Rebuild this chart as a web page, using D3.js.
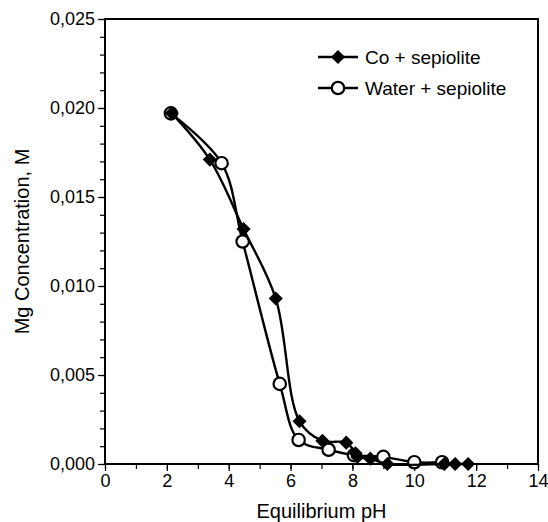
<!DOCTYPE html>
<html>
<head>
<meta charset="utf-8">
<script src="https://cdn.jsdelivr.net/npm/d3@7"></script>
<style>
  body { margin: 0; background: #fff; }
  svg { font-family: "Liberation Sans", Arial, sans-serif; }
</style>
</head>
<body>
<svg id="chart" width="548" height="522"></svg>
<script>
// Co + sepiolite (filled diamonds)
var co_ph   = [2.16, 3.39, 4.48, 5.52, 6.29, 7.03, 7.80, 8.10, 8.16, 8.58, 9.13, 10.97, 11.32, 11.74];
var co_mg   = [0.0197, 0.0171, 0.0132, 0.0093, 0.0024, 0.0013, 0.0012, 0.0006, 0.0004, 0.0003, 0.0000, 0.0000, 0.0000, 0.0000];

// Water + sepiolite (open circles)
var water_ph = [2.13, 3.77, 4.45, 5.65, 6.26, 7.23, 8.05, 9.00, 10.00, 10.90];
var water_mg = [0.0197, 0.0169, 0.0125, 0.0045, 0.00135, 0.0008, 0.0005, 0.0004, 0.0001, 0.0001];

var series_names = ['Co + sepiolite', 'Water + sepiolite'];
var x_ticks = [0, 2, 4, 6, 8, 10, 12, 14];
var y_ticks = [0, 0.005, 0.010, 0.015, 0.020, 0.025];

var margin = {top: 19, right: 10, bottom: 58, left: 105};
var width = 548 - margin.left - margin.right;
var height = 522 - margin.top - margin.bottom;

var svg = d3.select('#chart');
var g = svg.append('g')
  .attr('transform', 'translate(' + margin.left + ',' + margin.top + ')');

var x = d3.scaleLinear().domain([0, 14]).range([0, width]);
var y = d3.scaleLinear().domain([0, 0.025]).range([height, 0]);

var fmt = d => d3.format('.3f')(d).replace('.', ',');

// minor ticks
g.append('g')
  .attr('transform', 'translate(0,' + height + ')')
  .call(d3.axisBottom(x).tickValues(d3.range(0, 15, 1)).tickSize(5).tickFormat(''))
  .call(a => a.select('.domain').remove())
  .selectAll('line').attr('stroke-width', 1.2);

g.append('g')
  .call(d3.axisLeft(y).tickValues(d3.range(0, 0.0251, 0.001)).tickSize(5).tickFormat(''))
  .call(a => a.select('.domain').remove())
  .selectAll('line').attr('stroke-width', 1.2);

// major ticks
var xAxis = g.append('g')
  .attr('transform', 'translate(0,' + height + ')')
  .call(d3.axisBottom(x).tickValues(x_ticks).tickSize(7).tickPadding(3));
xAxis.select('.domain').remove();
xAxis.selectAll('line').attr('stroke-width', 1.2);
xAxis.selectAll('text').attr('font-size', 18).attr('fill', '#000')
  .attr('font-family', '"Liberation Sans", Arial, sans-serif');

var yAxis = g.append('g')
  .call(d3.axisLeft(y).tickValues(y_ticks).tickSize(7).tickPadding(3).tickFormat(fmt));
yAxis.select('.domain').remove();
yAxis.selectAll('line').attr('stroke-width', 1.2);
yAxis.selectAll('text').attr('font-size', 18).attr('fill', '#000')
  .attr('font-family', '"Liberation Sans", Arial, sans-serif');

// frame
g.append('rect')
  .attr('x', 0).attr('y', 0)
  .attr('width', width).attr('height', height)
  .attr('fill', 'none')
  .attr('stroke', '#000')
  .attr('stroke-width', 2);

// axis titles
svg.append('text')
  .attr('x', margin.left + width / 2)
  .attr('y', 518)
  .attr('text-anchor', 'middle')
  .attr('font-size', 20)
  .text('Equilibrium pH');

svg.append('text')
  .attr('transform', 'translate(29,' + (margin.top + height / 2) + ') rotate(-90)')
  .attr('text-anchor', 'middle')
  .attr('font-size', 20)
  .text('Mg Concentration, M');

var line = d3.line()
  .x(d => x(d[0]))
  .y(d => y(d[1]))
  .curve(d3.curveCatmullRom.alpha(0.5));

var water = water_ph.map((p, i) => [p, water_mg[i]]);
var co = co_ph.map((p, i) => [p, co_mg[i]]);

// square turned 45 degrees, same width and height
var diamond = d3.symbol().type(d3.symbolSquare).size(100);
var radius = 6.2;

function draw_water(sel)
{
  sel.append('path')
    .datum(water)
    .attr('fill', 'none')
    .attr('stroke', '#000')
    .attr('stroke-width', 2.4)
    .attr('d', line);

  sel.selectAll('.water-pt')
    .data(water)
    .enter()
    .append('circle')
    .attr('class', 'water-pt')
    .attr('cx', d => x(d[0]))
    .attr('cy', d => y(d[1]))
    .attr('r', radius)
    .attr('fill', '#fff')
    .attr('stroke', '#000')
    .attr('stroke-width', 2.2);
}

function draw_co(sel)
{
  sel.append('path')
    .datum(co)
    .attr('fill', 'none')
    .attr('stroke', '#000')
    .attr('stroke-width', 2.4)
    .attr('d', line);

  sel.selectAll('.co-pt')
    .data(co)
    .enter()
    .append('path')
    .attr('class', 'co-pt')
    .attr('transform', d => 'translate(' + x(d[0]) + ',' + y(d[1]) + ') rotate(45)')
    .attr('d', diamond)
    .attr('fill', '#000');
}

var plot = g.append('g');
draw_water(plot);
draw_co(plot);

// legend
var legend = svg.append('g').attr('transform', 'translate(318,57)');

legend.append('line')
  .attr('x1', 0).attr('x2', 40).attr('y1', 0).attr('y2', 0)
  .attr('stroke', '#000').attr('stroke-width', 2.4);
legend.append('path')
  .attr('transform', 'translate(20,0) rotate(45)')
  .attr('d', diamond)
  .attr('fill', '#000');
legend.append('text')
  .attr('x', 47).attr('y', 7)
  .attr('font-size', 19)
  .text(series_names[0]);

legend.append('line')
  .attr('x1', 0).attr('x2', 40).attr('y1', 31).attr('y2', 31)
  .attr('stroke', '#000').attr('stroke-width', 2.4);
legend.append('circle')
  .attr('cx', 20).attr('cy', 31).attr('r', radius)
  .attr('fill', '#fff').attr('stroke', '#000').attr('stroke-width', 2.2);
legend.append('text')
  .attr('x', 47).attr('y', 38)
  .attr('font-size', 19)
  .text(series_names[1]);
</script>
</body>
</html>
